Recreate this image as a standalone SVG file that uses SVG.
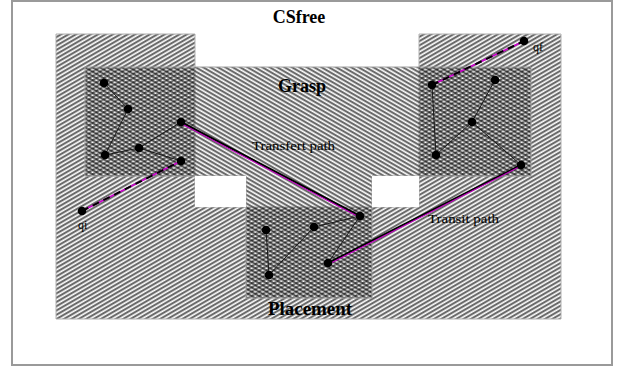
<svg xmlns="http://www.w3.org/2000/svg" width="624" height="367" viewBox="0 0 624 367">
  <style>
    .title { font-family: "Liberation Serif", "Times New Roman", serif; font-weight: bold; font-size: 18px; fill: #000; }
    .label { font-family: "Liberation Serif", "Times New Roman", serif; font-size: 12px; fill: #000; }
    .edge { stroke: #1a1a1a; stroke-width: 1; fill: none; }
    .path-main { stroke: #000; stroke-width: 2; fill: none; }
    .path-tint { stroke: #c000c0; stroke-width: 1.2; fill: none; }
    .dash-base { stroke: #cc00cc; stroke-width: 1.8; fill: none; }
    .dash-top { stroke: #000; stroke-width: 2; fill: none; stroke-dasharray: 7 5; }
    .dot { fill: #000; }
  </style>
  <defs>
    <!-- free-space hatching, rising to the right -->
    <pattern id="hatchUp" width="10" height="3.7" patternUnits="userSpaceOnUse" patternTransform="rotate(-30)">
      <rect width="10" height="3.7" fill="#fff"/>
      <line x1="0" y1="1" x2="10" y2="1" stroke="#000" stroke-width="1.1"/>
      <line x1="0" y1="2.15" x2="10" y2="2.15" stroke="#a0a0a0" stroke-width="0.65"/>
    </pattern>
    <!-- grasp / placement hatching, falling to the right -->
    <pattern id="hatchDown" width="10" height="3.7" patternUnits="userSpaceOnUse" patternTransform="rotate(30)">
      <line x1="0" y1="1" x2="10" y2="1" stroke="#000" stroke-width="1.1"/>
      <line x1="0" y1="2.15" x2="10" y2="2.15" stroke="#a0a0a0" stroke-width="0.65"/>
    </pattern>
  </defs>

  <!-- outer frame -->
  <rect x="12" y="1" width="600" height="364" fill="#fff" stroke="#9a9a9a" stroke-width="2"/>

  <!-- free configuration space -->
  <g id="csfree">
    <path d="M56,34 H195 V207 H419 V34 H561 V319 H56 Z" fill="url(#hatchUp)" stroke="#b0b0b0" stroke-width="1"/>
    <text class="title" x="299" y="23" text-anchor="middle">CSfree</text>
  </g>

  <!-- grasp band joined with the placement column -->
  <g id="grasp">
    <path d="M85,67 H531 V176 H372 V298 H246 V176 H85 Z" fill="url(#hatchDown)" stroke="#a0a0a0" stroke-width="1"/>
    <rect x="195" y="176" width="51" height="31" fill="#fff"/>
    <rect x="372" y="176" width="47" height="31" fill="#fff"/>
    <text class="title" x="302" y="92" text-anchor="middle">Grasp</text>
  </g>

  <g id="placement">
    <text class="title" x="310" y="315" text-anchor="middle" textLength="84" lengthAdjust="spacingAndGlyphs">Placement</text>
  </g>

  <!-- roadmap edges and paths -->
  <g id="connectors">
    <line class="edge" x1="104" y1="83" x2="128" y2="109"/>
    <line class="edge" x1="128" y1="109" x2="105" y2="155"/>
    <line class="edge" x1="105" y1="155" x2="139" y2="148"/>
    <line class="edge" x1="139" y1="148" x2="181" y2="122"/>
    <line class="edge" x1="139" y1="148" x2="181" y2="161"/>

    <line class="edge" x1="432" y1="85" x2="436" y2="155"/>
    <line class="edge" x1="436" y1="155" x2="472" y2="122"/>
    <line class="edge" x1="472" y1="122" x2="495" y2="80"/>
    <line class="edge" x1="472" y1="122" x2="521" y2="165"/>

    <line class="edge" x1="266" y1="230" x2="269" y2="275"/>
    <line class="edge" x1="269" y1="275" x2="314" y2="227"/>
    <line class="edge" x1="314" y1="227" x2="360" y2="216"/>
    <line class="edge" x1="360" y1="216" x2="328" y2="263"/>

    <!-- transfer path -->
    <line class="path-main" x1="181" y1="122" x2="360" y2="216"/>
    <line class="path-tint" x1="182" y1="124" x2="361" y2="218"/>
    <!-- transit path -->
    <line class="path-main" x1="521" y1="165" x2="328" y2="263"/>
    <line class="path-tint" x1="521" y1="166" x2="329" y2="264"/>

    <!-- connections to the end configurations -->
    <line class="dash-base" x1="82" y1="211" x2="181" y2="161"/>
    <line class="dash-top" x1="82" y1="211" x2="181" y2="161"/>
    <line class="dash-base" x1="432" y1="85" x2="524" y2="41"/>
    <line class="dash-top" x1="432" y1="85" x2="524" y2="41"/>
  </g>

  <g id="path-labels">
    <text class="label" x="252" y="150" textLength="83" lengthAdjust="spacingAndGlyphs">Transfert path</text>
    <text class="label" x="428" y="223" textLength="71" lengthAdjust="spacingAndGlyphs">Transit path</text>
  </g>

  <!-- roadmap nodes -->
  <g id="n-qi"><circle class="dot" cx="82" cy="211" r="4.3"/><text class="label" x="78" y="229">qi</text></g>
  <g id="n-qf"><circle class="dot" cx="524" cy="41" r="4.3"/><text class="label" x="533" y="51">qf</text></g>
  <g id="n-g1"><circle class="dot" cx="104" cy="83" r="4.3"/></g>
  <g id="n-g2"><circle class="dot" cx="128" cy="109" r="4.3"/></g>
  <g id="n-g3"><circle class="dot" cx="181" cy="122" r="4.3"/></g>
  <g id="n-g4"><circle class="dot" cx="105" cy="155" r="4.3"/></g>
  <g id="n-g5"><circle class="dot" cx="139" cy="148" r="4.3"/></g>
  <g id="n-g6"><circle class="dot" cx="181" cy="161" r="4.3"/></g>
  <g id="n-g7"><circle class="dot" cx="432" cy="85" r="4.3"/></g>
  <g id="n-g8"><circle class="dot" cx="495" cy="80" r="4.3"/></g>
  <g id="n-g9"><circle class="dot" cx="472" cy="122" r="4.3"/></g>
  <g id="n-g10"><circle class="dot" cx="436" cy="155" r="4.3"/></g>
  <g id="n-g11"><circle class="dot" cx="521" cy="165" r="4.3"/></g>
  <g id="n-p1"><circle class="dot" cx="266" cy="230" r="4.3"/></g>
  <g id="n-p2"><circle class="dot" cx="314" cy="227" r="4.3"/></g>
  <g id="n-p3"><circle class="dot" cx="360" cy="216" r="4.3"/></g>
  <g id="n-p4"><circle class="dot" cx="269" cy="275" r="4.3"/></g>
  <g id="n-p5"><circle class="dot" cx="328" cy="263" r="4.3"/></g>
</svg>
